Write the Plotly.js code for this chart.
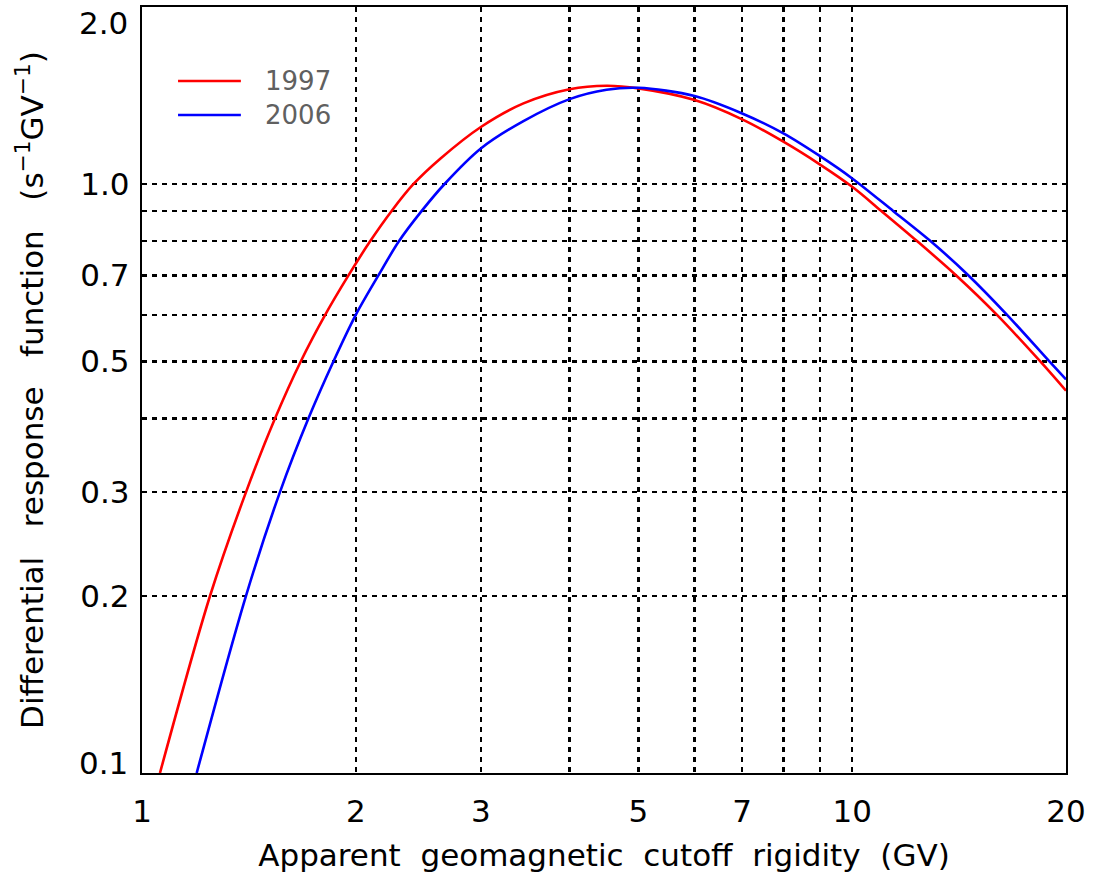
<!DOCTYPE html>
<html>
<head>
<meta charset="utf-8">
<script src="https://cdn.plot.ly/plotly-3.0.1.min.js"></script>
<style>html,body{margin:0;padding:0;background:#fff;}#chart{width:1115px;height:880px;}</style>
</head>
<body>
<div id="chart"></div>
<script>
// 1997 curve (rigidity GV, response s^-1 GV^-1)
const rig1997 = [1.060, 1.247, 1.401, 1.539, 1.673, 1.811, 1.953, 2.095, 2.245, 2.410, 2.63, 3.0, 3.444, 4.0, 4.51, 5.0, 6.0, 7.0, 8.0, 9.0, 10.0, 11.0, 12.35, 14.01, 15.99, 18.40, 20.0];
const resp1997 = [0.1, 0.2, 0.3, 0.4, 0.5, 0.6, 0.7, 0.8, 0.9, 1.0, 1.105, 1.251, 1.372, 1.450, 1.470, 1.455, 1.390, 1.289, 1.181, 1.081, 0.990, 0.9, 0.8, 0.7, 0.6, 0.5, 0.446];
// 2006 curve
const rig2006 = [1.194, 1.401, 1.564, 1.715, 1.860, 2.0, 2.152, 2.300, 2.475, 2.665, 3.0, 3.444, 4.0, 4.51, 5.0, 6.0, 7.0, 8.0, 9.0, 10.0, 11.43, 12.90, 14.58, 16.52, 18.95, 20.0];
const resp2006 = [0.1, 0.2, 0.3, 0.4, 0.5, 0.6, 0.7, 0.8, 0.9, 1.0, 1.150, 1.280, 1.395, 1.447, 1.458, 1.412, 1.319, 1.220, 1.117, 1.023, 0.9, 0.8, 0.7, 0.6, 0.5, 0.466];

const seriesNames = ['1997', '2006'];
const seriesColors = ['#ff0000', '#0000ff'];

const xTickVals = [1, 2, 3, 4, 5, 6, 7, 8, 9, 10, 20];
const xTickText = ['1', '2', '3', '', '5', '', '7', '', '', '10', '20'];
const yTickVals = [0.1, 0.2, 0.3, 0.4, 0.5, 0.6, 0.7, 0.8, 0.9, 1.0, 2.0];
const yTickText = ['', '0.2', '0.3', '', '0.5', '', '0.7', '', '', '1.0', ''];
const yEdgeLabels = ['0.1', '2.0'];

const traces = [
  {x: rig1997, y: resp1997, name: seriesNames[0], mode: 'lines', line: {color: seriesColors[0], width: 2.6, shape: 'spline', smoothing: 0.9}},
  {x: rig2006, y: resp2006, name: seriesNames[1], mode: 'lines', line: {color: seriesColors[1], width: 2.6, shape: 'spline', smoothing: 0.9}}
];

const FONT = 'DejaVu Sans, sans-serif';
const TICKFONT = {size: 31, family: FONT, color: '#000'};
const S2 = '\u00a0\u00a0';
const S3 = '\u00a0\u00a0\u00a0';
const layout = {
  width: 1115, height: 880,
  margin: {l: 142, r: 49, t: 7, b: 107},
  paper_bgcolor: '#fff', plot_bgcolor: '#fff',
  showlegend: false,
  font: {family: FONT, color: '#000'},
  xaxis: {
    type: 'log', range: [0, Math.log10(20)],
    tickmode: 'array', tickvals: xTickVals, ticktext: xTickText,
    ticks: 'outside', ticklen: 10, tickcolor: 'rgba(0,0,0,0)',
    tickfont: TICKFONT,
    showgrid: true, gridcolor: '#000', gridwidth: 2.4, griddash: '5px,5px',
    showline: true, linecolor: '#000', linewidth: 2.2, mirror: true,
    zeroline: false,
    title: {text: 'Apparent' + S2 + 'geomagnetic' + S2 + 'cutoff' + S2 + 'rigidity' + S2 + '(GV)', font: {size: 31, family: FONT, color: '#000'}, standoff: 16}
  },
  yaxis: {
    type: 'log', range: [-1, Math.log10(2)],
    tickmode: 'array', tickvals: yTickVals, ticktext: yTickText,
    ticks: 'outside', ticklen: 4, tickcolor: 'rgba(0,0,0,0)',
    tickfont: TICKFONT,
    showgrid: true, gridcolor: '#000', gridwidth: 2.4, griddash: '5px,5px',
    showline: true, linecolor: '#000', linewidth: 2.2, mirror: true,
    zeroline: false,
    title: {text: 'Differential' + S3 + 'response' + S3 + 'function' + S3 + '(s<sup>\u22121</sup>GV<sup>\u22121</sup>)', font: {size: 31, family: FONT, color: '#000'}, standoff: 28}
  },
  shapes: [
    {type: 'line', xref: 'paper', yref: 'paper', x0: 0.039, x1: 0.107, y0: 0.9034, y1: 0.9034, line: {color: seriesColors[0], width: 2.6}},
    {type: 'line', xref: 'paper', yref: 'paper', x0: 0.039, x1: 0.107, y0: 0.859, y1: 0.859, line: {color: seriesColors[1], width: 2.6}}
  ],
  annotations: [
    {xref: 'paper', yref: 'paper', x: 0.131, y: 0.9034, xanchor: 'left', yanchor: 'middle', text: seriesNames[0], showarrow: false, font: {size: 26, family: FONT, color: '#606060'}},
    {xref: 'paper', yref: 'paper', x: 0.131, y: 0.859, xanchor: 'left', yanchor: 'middle', text: seriesNames[1], showarrow: false, font: {size: 26, family: FONT, color: '#606060'}},
    {xref: 'paper', yref: 'paper', x: 0, y: 0, xanchor: 'right', yanchor: 'bottom', xshift: -12, yshift: -10, text: yEdgeLabels[0], showarrow: false, font: TICKFONT},
    {xref: 'paper', yref: 'paper', x: 0, y: 1, xanchor: 'right', yanchor: 'top', xshift: -12, yshift: 4, text: yEdgeLabels[1], showarrow: false, font: TICKFONT}
  ]
};

Plotly.newPlot('chart', traces, layout, {staticPlot: true, displayModeBar: false});
</script>
</body>
</html>
